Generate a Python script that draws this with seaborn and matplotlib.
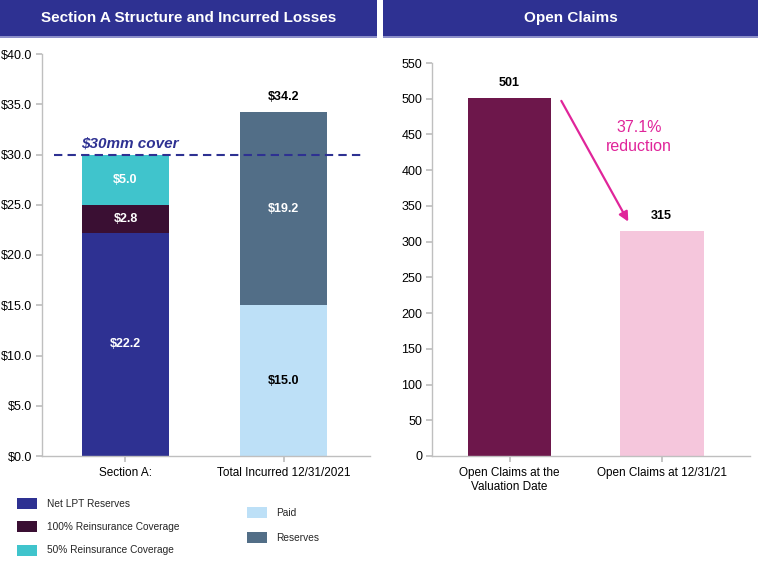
import numpy as np
import pandas as pd
import matplotlib
matplotlib.use("Agg")
import matplotlib.pyplot as plt
from matplotlib.patches import Rectangle, Patch
import seaborn as sns

# ---- data ----
left_cats = ["Section A:", "Total Incurred 12/31/2021"]
section_layers = ["Net LPT Reserves", "100% Reinsurance Coverage", "50% Reinsurance Coverage"]
section_values = [22.2, 2.8, 5.0]
incurred_layers = ["Paid", "Reserves"]
incurred_values = [15.0, 19.2]
cover_level = 30.0

right_cats = ["Open Claims at the\nValuation Date", "Open Claims at 12/31/21"]
open_claims = [501, 315]
reduction_label = "37.1%\nreduction"

section_colors = ["#2E3192", "#3A0F33", "#40C4CC"]
incurred_colors = ["#BDE0F7", "#526E87"]
claim_colors = ["#6D174B", "#F5C6DC"]
NAVY = "#2E3192"

sns.set_theme(style="white")
plt.rcParams["font.family"] = ["Liberation Sans", "DejaVu Sans"]

fig = plt.figure(figsize=(7.58, 5.62), dpi=100)
W, H = 758, 562


def px_axes(x0, y0, x1, y1):
    return fig.add_axes([x0 / W, 1 - y1 / H, (x1 - x0) / W, (y1 - y0) / H])


def banner(x0, x1, text):
    fig.add_artist(Rectangle((x0 / W, 1 - 36 / H), (x1 - x0) / W, 36 / H,
                             transform=fig.transFigure, facecolor=NAVY,
                             edgecolor="none"))
    fig.add_artist(Rectangle((x0 / W, 1 - 38 / H), (x1 - x0) / W, 2 / H,
                             transform=fig.transFigure, facecolor="#8C8FC9",
                             edgecolor="none"))
    fig.text((x0 + x1) / 2 / W, 1 - 18 / H, text, color="white", fontsize=11,
             fontweight="bold", ha="center", va="center")


banner(0, 377, "Section A Structure and Incurred Losses")
banner(383, 758, "Open Claims")


def style_axes(ax):
    for s in ["top", "right"]:
        ax.spines[s].set_visible(False)
    for s in ["left", "bottom"]:
        ax.spines[s].set_color("#BFBFBF")
        ax.spines[s].set_linewidth(1.0)
    ax.tick_params(axis="y", which="both", left=True, length=4, color="#BFBFBF",
                   labelsize=9, labelcolor="black", pad=3)
    ax.tick_params(axis="x", bottom=True, length=4, color="#BFBFBF",
                   labelsize=8.5, labelcolor="black", pad=4)
    ax.set_xlabel("")
    ax.set_ylabel("")
    ax.grid(False)


# ---- left chart: stacked bars ----
axl = px_axes(42, 54, 370, 456)
bar_w = 0.55
cum_a = np.cumsum(section_values)
for layer, top, color in reversed(list(zip(section_layers, cum_a, section_colors))):
    sns.barplot(x=[left_cats[0]], y=[top], order=left_cats, color=color,
                width=bar_w, ax=axl, saturation=1, edgecolor="none")
cum_b = np.cumsum(incurred_values)
for layer, top, color in reversed(list(zip(incurred_layers, cum_b, incurred_colors))):
    sns.barplot(x=[left_cats[1]], y=[top], order=left_cats, color=color,
                width=bar_w, ax=axl, saturation=1, edgecolor="none")

bottoms_a = np.concatenate([[0], cum_a[:-1]])
for b, v in zip(bottoms_a, section_values):
    axl.text(0, b + v / 2, f"${v:.1f}", color="white", fontsize=9,
             fontweight="bold", ha="center", va="center")
bottoms_b = np.concatenate([[0], cum_b[:-1]])
for i, (b, v) in enumerate(zip(bottoms_b, incurred_values)):
    axl.text(1, b + v / 2, f"${v:.1f}", color="black" if i == 0 else "white",
             fontsize=9, fontweight="bold", ha="center", va="center")
axl.text(1, cum_b[-1] + 0.9, f"${cum_b[-1]:.1f}", color="black", fontsize=9,
         fontweight="bold", ha="center", va="bottom")

axl.plot([-0.45, 1.5], [cover_level, cover_level], color=NAVY, lw=1.5,
         ls=(0, (4, 2.5)))
axl.text(-0.28, cover_level + 0.4, "$30mm cover", color=NAVY, fontsize=11,
         fontweight="bold", fontstyle="italic", ha="left", va="bottom")

axl.set_xlim(-0.528, 1.547)
axl.set_ylim(0, 40)
axl.set_yticks(np.arange(0, 40.1, 5))
axl.set_yticklabels([f"${t:.1f}" for t in np.arange(0, 40.1, 5)])
style_axes(axl)

# ---- right chart: open claims ----
axr = px_axes(432, 63, 750, 456)
sns.barplot(x=right_cats, y=open_claims, order=right_cats, hue=right_cats,
            palette=claim_colors, width=0.55, saturation=1, ax=axr,
            edgecolor="none", legend=False)
for i, v in enumerate(open_claims):
    axr.text(i, v + 12, f"{v}", color="black", fontsize=9, fontweight="bold",
             ha="center", va="bottom")
axr.annotate("", xy=(0.78, 328), xytext=(0.34, 497),
             arrowprops=dict(arrowstyle="-|>", color="#E0259A", lw=1.6,
                             mutation_scale=14, shrinkA=0, shrinkB=0))
axr.text(0.85, 446, reduction_label, color="#E0259A", fontsize=11.5,
         ha="center", va="center", linespacing=1.35)
axr.set_xlim(-0.51, 1.58)
axr.set_ylim(0, 550)
axr.set_yticks(np.arange(0, 551, 50))
style_axes(axr)

# ---- legends ----
leg_a = [Patch(facecolor=c, edgecolor="none", label=l)
         for l, c in zip(section_layers, section_colors)]
fig.legend(handles=leg_a, loc="upper left", bbox_to_anchor=(8 / W, 1 - 489 / H),
           frameon=False, fontsize=7.3, handlelength=2.0, handleheight=1.3,
           labelspacing=1.2, handletextpad=0.9)
leg_b = [Patch(facecolor=c, edgecolor="none", label=l)
         for l, c in zip(incurred_layers, incurred_colors)]
fig.legend(handles=leg_b, loc="upper left", bbox_to_anchor=(238 / W, 1 - 498 / H),
           frameon=False, fontsize=7.3, handlelength=2.0, handleheight=1.3,
           labelspacing=1.4, handletextpad=0.9)

fig.savefig("out.png", dpi=100)
